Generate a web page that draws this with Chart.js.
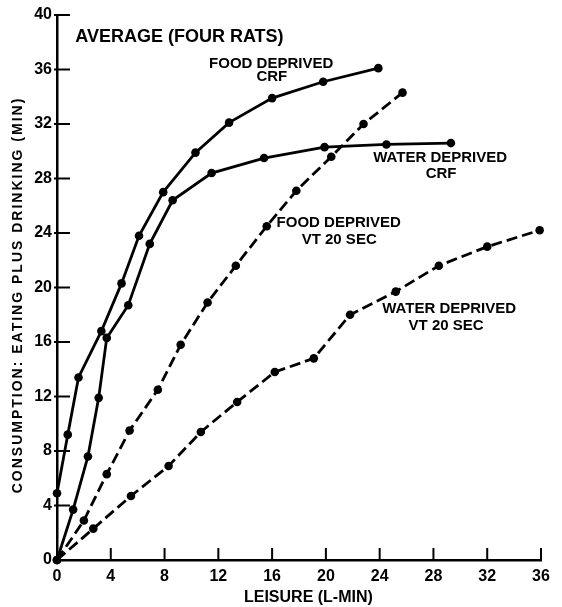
<!DOCTYPE html>
<html>
<head>
<meta charset="utf-8">
<title>Average (four rats): consumption vs leisure</title>
<script src="https://cdn.jsdelivr.net/npm/chart.js@4/dist/chart.umd.min.js"></script>
<style>
  html, body { margin: 0; padding: 0; background: #ffffff; }
  #wrap { width: 562px; height: 607px; }
</style>
</head>
<body>
<div id="wrap"><canvas id="chart" width="562" height="607"></canvas></div>
<script>
// Leisure (L-MIN) on x, eating plus drinking (MIN) on y, averaged over four rats.
const foodCrfX   = [0, 0.8, 1.6, 3.3, 4.8, 6.1, 7.9, 10.3, 12.8, 16.0, 19.8, 23.9];
const foodCrfY   = [4.9, 9.2, 13.4, 16.8, 20.3, 23.8, 27.0, 29.9, 32.1, 33.9, 35.1, 36.1];

const waterCrfX  = [0, 1.2, 2.3, 3.1, 3.7, 5.3, 6.9, 8.6, 11.5, 15.4, 19.9, 24.5, 29.3];
const waterCrfY  = [0, 3.7, 7.6, 11.9, 16.3, 18.7, 23.2, 26.4, 28.4, 29.5, 30.3, 30.5, 30.6];

const foodVtX    = [0, 2.0, 3.7, 5.4, 7.5, 9.2, 11.2, 13.3, 15.6, 17.8, 20.4, 22.8, 25.7];
const foodVtY    = [0, 2.9, 6.3, 9.5, 12.5, 15.8, 18.9, 21.6, 24.5, 27.1, 29.6, 32.0, 34.3];

const waterVtX   = [0, 2.7, 5.5, 8.3, 10.7, 13.4, 16.2, 19.1, 21.8, 25.2, 28.4, 32.0, 35.9];
const waterVtY   = [0, 2.3, 4.7, 6.9, 9.4, 11.6, 13.8, 14.8, 18.0, 19.7, 21.6, 23.0, 24.2];

const xTicks = [0, 4, 8, 12, 16, 20, 24, 28, 32, 36];
const yTicks = [0, 4, 8, 12, 16, 20, 24, 28, 32, 36, 40];

const xTitle = 'LEISURE (L-MIN)';
const yTitle = 'CONSUMPTION: EATING PLUS DRINKING (MIN)';

// Curve labels, placed in data units.
const notes = [
  { text: 'AVERAGE (FOUR RATS)', x: 1.36, y: 38.4, size: 18, align: 'left' },
  { text: 'FOOD DEPRIVED', x: 15.93, y: 36.45, size: 15, align: 'center' },
  { text: 'CRF', x: 15.98, y: 35.45, size: 15, align: 'center' },
  { text: 'WATER DEPRIVED', x: 28.5, y: 29.54, size: 15, align: 'center' },
  { text: 'CRF', x: 28.57, y: 28.33, size: 15, align: 'center' },
  { text: 'FOOD DEPRIVED', x: 20.95, y: 24.73, size: 15, align: 'center' },
  { text: 'VT 20 SEC', x: 20.99, y: 23.52, size: 15, align: 'center' },
  { text: 'WATER DEPRIVED', x: 29.17, y: 18.42, size: 15, align: 'center' },
  { text: 'VT 20 SEC', x: 28.94, y: 17.17, size: 15, align: 'center' }
];

const FONT = '"Liberation Sans", Arial, Helvetica, sans-serif';
const INK = '#000000';

function pts(xs, ys) { return xs.map((x, i) => ({ x: x, y: ys[i] })); }

function series(label, xs, ys, dashed) {
  return {
    label: label,
    data: pts(xs, ys),
    borderColor: INK,
    backgroundColor: INK,
    borderWidth: 2.8,
    borderDash: dashed ? [11, 5] : [],
    pointRadius: 4.3,
    pointBorderWidth: 0,
    pointBackgroundColor: INK,
    tension: 0,
    clip: false
  };
}

const whiteBg = {
  id: 'whiteBg',
  beforeDraw(chart) {
    const c = chart.ctx;
    c.save();
    c.fillStyle = '#ffffff';
    c.fillRect(0, 0, chart.width, chart.height);
    c.restore();
  }
};

// Tick marks pointing into the plot, plus titles and curve labels.
const decorations = {
  id: 'decorations',
  afterDraw(chart) {
    const c = chart.ctx;
    const xs = chart.scales.x, ys = chart.scales.y;
    const area = chart.chartArea;
    c.save();
    c.strokeStyle = INK;
    c.lineWidth = 2;
    c.setLineDash([]);
    c.beginPath();
    xs.ticks.forEach(t => {
      const px = xs.getPixelForValue(t.value);
      c.moveTo(px, area.bottom);
      c.lineTo(px, area.bottom - 12);
    });
    ys.ticks.forEach(t => {
      const py = ys.getPixelForValue(t.value);
      c.moveTo(area.left - 3, py);
      c.lineTo(area.left + 13, py);
    });
    c.stroke();

    c.fillStyle = INK;
    c.textBaseline = 'middle';
    notes.forEach(n => {
      c.font = 'bold ' + n.size + 'px ' + FONT;
      c.textAlign = n.align;
      c.fillText(n.text, xs.getPixelForValue(n.x), ys.getPixelForValue(n.y));
    });

    // x axis title
    c.font = 'bold 16px ' + FONT;
    c.textAlign = 'center';
    c.fillText(xTitle, xs.getPixelForValue(18.7), area.bottom + 38);

    // y axis title
    c.save();
    c.translate(18, ys.getPixelForValue(19.45));
    c.rotate(-Math.PI / 2);
    c.font = 'bold 14px ' + FONT;
    if ('letterSpacing' in c) c.letterSpacing = '2px';
    c.textAlign = 'center';
    c.fillText(yTitle, 0, 0);
    c.restore();

    c.restore();
  }
};

new Chart(document.getElementById('chart'), {
  type: 'line',
  data: {
    datasets: [
      series('Food deprived CRF', foodCrfX, foodCrfY, false),
      series('Water deprived CRF', waterCrfX, waterCrfY, false),
      series('Food deprived VT 20 sec', foodVtX, foodVtY, true),
      series('Water deprived VT 20 sec', waterVtX, waterVtY, true)
    ]
  },
  options: {
    responsive: false,
    devicePixelRatio: 1,
    animation: false,
    layout: { padding: { top: 15, right: 21, left: 0, bottom: 0 } },
    plugins: { legend: { display: false }, tooltip: { enabled: false }, title: { display: false } },
    scales: {
      x: {
        type: 'linear',
        min: 0, max: 36,
        afterBuildTicks: s => { s.ticks = xTicks.map(v => ({ value: v })); },
        afterFit: s => { s.height = 47; },
        grid: { display: true, drawOnChartArea: false, drawTicks: false },
        border: { display: true, color: INK, width: 2.5 },
        ticks: { color: INK, padding: 7, maxRotation: 0, font: { family: FONT, size: 16, weight: 'bold' } }
      },
      y: {
        type: 'linear',
        min: 0, max: 40,
        afterBuildTicks: s => { s.ticks = yTicks.map(v => ({ value: v })); },
        afterFit: s => { s.width = 57; },
        grid: { display: true, drawOnChartArea: false, drawTicks: false },
        border: { display: true, color: INK, width: 2.5 },
        ticks: { color: INK, padding: 5, font: { family: FONT, size: 16, weight: 'bold' } }
      }
    }
  },
  plugins: [whiteBg, decorations]
});
</script>
</body>
</html>
